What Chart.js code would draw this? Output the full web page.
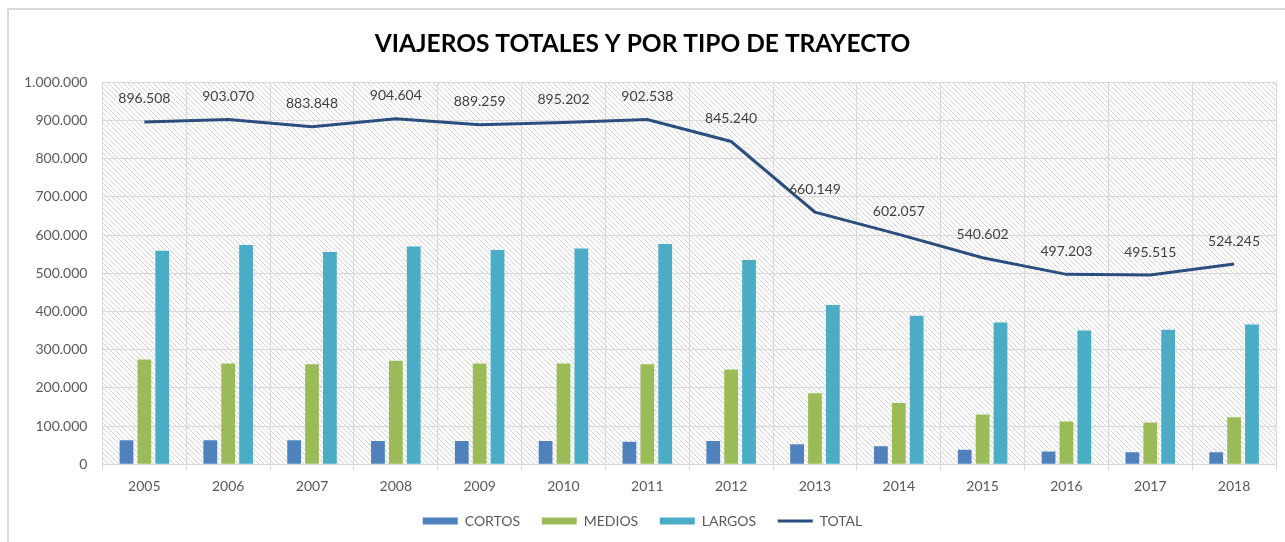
<!DOCTYPE html>
<html>
<head>
<meta charset="utf-8">
<script src="https://cdn.jsdelivr.net/npm/chart.js@4.4.1/dist/chart.umd.min.js"></script>
<style>
  html, body { margin: 0; padding: 0; background: #fff; }
  .wrap { position: relative; width: 1285px; height: 542px; }
  .frame { position: absolute; left: 7px; top: 8px; right: 0; bottom: 0;
           border-left: 2px solid #d9d9d9; border-top: 2px solid #d9d9d9; pointer-events: none; }
  canvas { position: absolute; left: 0; top: 0; }
</style>
</head>
<body>
<div class="wrap">
  <canvas id="viajeros" width="1285" height="542"></canvas>
  <div class="frame"></div>
</div>
<script>
const years = ['2005', '2006', '2007', '2008', '2009', '2010', '2011', '2012', '2013', '2014', '2015', '2016', '2017', '2018'];
const cortos = [63000, 63000, 63000, 61000, 61000, 61000, 59000, 61000, 52000, 47000, 38000, 33000, 31000, 31000];
const medios = [274000, 264000, 262000, 271000, 264000, 264000, 262000, 248000, 186000, 160000, 130000, 112000, 109000, 123000];
const largos = [559000, 574000, 556000, 570000, 561000, 565000, 577000, 535000, 417000, 389000, 371000, 350000, 352000, 366000];
const total = [896508, 903070, 883848, 904604, 889259, 895202, 902538, 845240, 660149, 602057, 540602, 497203, 495515, 524245];

const FONT = 'Lato';

// 1234567 -> "1.234.567"
function miles(v) {
  return String(Math.round(v)).replace(/\B(?=(\d{3})+(?!\d))/g, '.');
}

// diagonal hatch behind the plot area
function hatch() {
  const c = document.createElement('canvas');
  c.width = 5; c.height = 5;
  const g = c.getContext('2d');
  g.fillStyle = '#ffffff';
  g.fillRect(0, 0, 5, 5);
  g.strokeStyle = '#d6d6d6';
  g.lineWidth = 1;
  g.beginPath();
  g.moveTo(-1, -1); g.lineTo(6, 6);
  g.moveTo(-1, 4); g.lineTo(1, 6);
  g.moveTo(4, -1); g.lineTo(6, 1);
  g.stroke();
  return g.createPattern(c, 'repeat');
}

const fondo = {
  id: 'fondo',
  beforeDraw(chart) {
    const { ctx, chartArea: a } = chart;
    ctx.save();
    ctx.fillStyle = hatch();
    ctx.fillRect(a.left, a.top, a.right - a.left, a.bottom - a.top);
    ctx.restore();
  }
};

const etiquetas = {
  id: 'etiquetas',
  afterDatasetsDraw(chart) {
    const { ctx } = chart;
    const meta = chart.getDatasetMeta(3);
    ctx.save();
    ctx.font = '14px ' + FONT;
    ctx.fillStyle = '#404040';
    ctx.textAlign = 'center';
    ctx.textBaseline = 'middle';
    meta.data.forEach((pt, i) => {
      ctx.fillText(miles(total[i]), pt.x, pt.y - 23);
    });
    ctx.restore();
  }
};

const chart = new Chart(document.getElementById('viajeros'), {
  type: 'bar',
  data: {
    labels: years,
    datasets: [
      { label: 'CORTOS', data: cortos, backgroundColor: '#4F81BD' },
      { label: 'MEDIOS', data: medios, backgroundColor: '#9BBB59' },
      { label: 'LARGOS', data: largos, backgroundColor: '#4BACC6' },
      {
        type: 'line', label: 'TOTAL', data: total,
        borderColor: '#2A4E7E', backgroundColor: '#2A4E7E',
        borderWidth: 3, pointRadius: 0, tension: 0
      }
    ]
  },
  options: {
    responsive: false,
    animation: false,
    datasets: {
      bar: { categoryPercentage: 0.64, barPercentage: 0.77 }
    },
    layout: { padding: { left: 9, right: 9, top: 17, bottom: 4 } },
    scales: {
      x: {
        grid: { color: '#d9d9d9', tickLength: 6, offset: true },
        border: { color: '#d9d9d9' },
        ticks: { color: '#595959', padding: 8, font: { family: FONT, size: 14 } }
      },
      y: {
        min: 0, max: 1000000,
        grid: { color: '#d9d9d9', drawTicks: false },
        border: { display: false },
        ticks: {
          stepSize: 100000, color: '#595959', padding: 15,
          font: { family: FONT, size: 14 },
          callback: v => miles(v)
        }
      }
    },
    plugins: {
      tooltip: { enabled: false },
      title: {
        display: true,
        text: 'VIAJEROS TOTALES Y POR TIPO DE TRAYECTO',
        color: '#000000',
        font: { family: FONT, size: 24.5, weight: 'bold' },
        padding: { top: 12, bottom: 24 }
      },
      legend: {
        position: 'bottom',
        labels: {
          color: '#595959',
          font: { family: FONT, size: 14 },
          usePointStyle: true,
          pointStyleWidth: 35,
          boxWidth: 35,
          boxHeight: 7,
          padding: 11,
          generateLabels(c) {
            const items = Chart.defaults.plugins.legend.labels.generateLabels(c);
            items.forEach(it => {
              if (it.text === 'TOTAL') {
                it.pointStyle = 'line';
                it.lineWidth = 3;
                it.strokeStyle = '#2A4E7E';
              } else {
                it.pointStyle = 'rect';
                it.lineWidth = 0;
                // a bit more room before the next entry
                it.text = it.text + ' \u2002';
              }
            });
            return items;
          }
        }
      }
    }
  },
  plugins: [fondo, etiquetas]
});
</script>
</body>
</html>
